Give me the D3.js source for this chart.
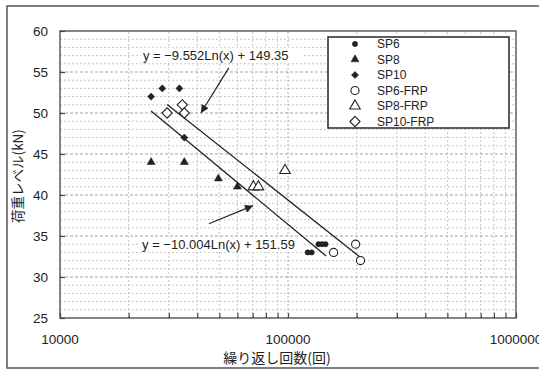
<!DOCTYPE html>
<html>
<head>
<meta charset="utf-8">
<script src="https://cdn.jsdelivr.net/npm/d3@7"></script>
<style>
  body { margin: 0; background: #fff; }
  text { fill: #222; }
</style>
</head>
<body>
<div id="chart"></div>
<script>
// values  [cycles, load kN]
var sp6     = [[122000,33],[127000,33],[136000,34],[141000,34],[146000,34]]
var sp8     = [[25100,44],[35100,44],[49500,42],[60000,41]]
var sp10    = [[25100,52],[28100,53],[33400,53],[35100,47]]
var sp6frp  = [[158500,33],[198000,34],[208000,32]]
var sp8frp  = [[70500,41],[74200,41],[97000,43]]
var sp10frp = [[29500,50],[34400,51],[35100,50]]

var seriesNames = ["SP6","SP8","SP10","SP6-FRP","SP8-FRP","SP10-FRP"]
var seriesData  = [sp6, sp8, sp10, sp6frp, sp8frp, sp10frp]

// log trendlines y = a*Ln(x) + b, drawn over the data range
var trendA     = [-9.552, -10.004]
var trendB     = [149.35, 151.59]
var trendFrom  = [29500, 25100]
var trendTo    = [208000, 147000]
var trendLabel = ["y = \u22129.552Ln(x) + 149.35", "y = \u221210.004Ln(x) + 151.59"]
// label anchor and arrow (data coords)
var labelAt    = [[23100,56.5],[22900,33.4]]
var arrowFrom  = [[55000,55.5],[45000,36.5]]
var arrowTo    = [[41500,50.0],[70200,38.7]]

var yTicks = [25,30,35,40,45,50,55,60]
var xTicks = [10000,100000,1000000]

var width = 539,
    height = 370,
    margin = {top: 31, right: 23, bottom: 52, left: 60}

var svg = d3.select("#chart")
  .append("svg")
    .attr("width", width)
    .attr("height", height)

// outer frame of the chart object (right side runs off the page)
svg.append("rect")
  .attr("x", 7).attr("y", 6)
  .attr("width", 545).attr("height", 362)
  .attr("fill", "none")
  .attr("stroke", "#555")
  .attr("stroke-width", 1.5)

var x = d3.scaleLog()
  .domain([10000, 1000000])
  .range([margin.left, width - margin.right])

var y = d3.scaleLinear()
  .domain([25, 60])
  .range([height - margin.bottom, margin.top])

var font = "'Liberation Sans', Arial, sans-serif"
var jpFont = "'Noto Sans CJK JP', sans-serif"

// grid
var minorX = []
for (var e = 4; e < 6; e++) {
  for (var m = 2; m <= 9; m++) minorX.push(m * Math.pow(10, e))
}
var minorY = d3.range(26, 60).filter(d => d % 5 !== 0)

var grid = svg.append("g")
grid.selectAll(".hminor")
  .data(minorY)
  .enter()
  .append("line")
    .attr("x1", x.range()[0]).attr("x2", x.range()[1])
    .attr("y1", d => y(d)).attr("y2", d => y(d))
    .attr("stroke", "#b8b8b8")
    .attr("stroke-dasharray", "2,2")
    .attr("stroke-width", 0.8)

grid.selectAll(".hmajor")
  .data(yTicks.slice(1, -1))
  .enter()
  .append("line")
    .attr("x1", x.range()[0]).attr("x2", x.range()[1])
    .attr("y1", d => y(d)).attr("y2", d => y(d))
    .attr("stroke", "#999")
    .attr("stroke-dasharray", "3,2")
    .attr("stroke-width", 0.9)

grid.selectAll(".vminor")
  .data(minorX.concat([100000]))
  .enter()
  .append("line")
    .attr("x1", d => x(d)).attr("x2", d => x(d))
    .attr("y1", y.range()[0]).attr("y2", y.range()[1])
    .attr("stroke", d => d === 100000 ? "#999" : "#b8b8b8")
    .attr("stroke-dasharray", "2,2")
    .attr("stroke-width", 0.8)

// plot border
svg.append("rect")
  .attr("x", x.range()[0]).attr("y", y.range()[1])
  .attr("width", x.range()[1] - x.range()[0])
  .attr("height", y.range()[0] - y.range()[1])
  .attr("fill", "none")
  .attr("stroke", "#444")
  .attr("stroke-width", 1.3)

// axes: inward ticks, labels placed separately
var xAxis = svg.append("g")
  .attr("transform", "translate(0," + y.range()[0] + ")")
  .call(d3.axisBottom(x).tickValues(minorX.concat(xTicks)).tickSize(-5).tickFormat(""))
xAxis.select(".domain").remove()
xAxis.selectAll(".tick line").attr("stroke", "#444").attr("stroke-width", 1.2)

var yAxis = svg.append("g")
  .attr("transform", "translate(" + x.range()[0] + ",0)")
  .call(d3.axisLeft(y).tickValues(yTicks).tickSize(-5).tickFormat(""))
yAxis.select(".domain").remove()
yAxis.selectAll(".tick line").attr("stroke", "#444").attr("stroke-width", 1.2)

svg.selectAll(".ylab")
  .data(yTicks)
  .enter()
  .append("text")
    .attr("x", 48)
    .attr("y", d => y(d) + 5)
    .attr("text-anchor", "end")
    .style("font-family", font)
    .style("font-size", "13.5px")
    .text(d => d)

svg.selectAll(".xlab")
  .data(xTicks)
  .enter()
  .append("text")
    .attr("x", d => x(d))
    .attr("y", 344)
    .attr("text-anchor", "middle")
    .style("font-family", font)
    .style("font-size", "13.5px")
    .text(d => d)

svg.append("text")
  .attr("x", 277).attr("y", 363)
  .attr("text-anchor", "middle")
  .style("font-family", jpFont)
  .style("font-size", "14px")
  .text("繰り返し回数(回)")

svg.append("text")
  .attr("transform", "translate(23,176) rotate(-90)")
  .attr("text-anchor", "middle")
  .style("font-family", jpFont)
  .style("font-size", "13.5px")
  .text("荷重レベル(kN)")

// trendlines
var line = d3.line().x(d => x(d[0])).y(d => y(d[1]))
trendA.forEach(function(a, i) {
  var pts = [trendFrom[i], trendTo[i]].map(v => [v, a * Math.log(v) + trendB[i]])
  svg.append("path")
    .attr("d", line(pts))
    .attr("fill", "none")
    .attr("stroke", "#222")
    .attr("stroke-width", 1.3)
})

// equation labels and arrows
svg.append("defs").append("marker")
  .attr("id", "head")
  .attr("viewBox", "0 0 10 10")
  .attr("refX", 10).attr("refY", 5)
  .attr("markerWidth", 10).attr("markerHeight", 8)
  .attr("markerUnits", "userSpaceOnUse")
  .attr("orient", "auto")
  .append("path")
    .attr("d", "M0,0 L10,5 L0,10 z")
    .attr("fill", "#222")

trendLabel.forEach(function(t, i) {
  svg.append("rect")
    .attr("x", x(labelAt[i][0]) - 2).attr("y", y(labelAt[i][1]) - 12)
    .attr("width", 163).attr("height", 15)
    .attr("fill", "#fff")
  svg.append("text")
    .attr("x", x(labelAt[i][0]))
    .attr("y", y(labelAt[i][1]))
    .style("font-family", font)
    .style("font-size", "13px")
    .text(t)
  svg.append("line")
    .attr("x1", x(arrowFrom[i][0])).attr("y1", y(arrowFrom[i][1]))
    .attr("x2", x(arrowTo[i][0])).attr("y2", y(arrowTo[i][1]))
    .attr("stroke", "#222")
    .attr("stroke-width", 1.2)
    .attr("marker-end", "url(#head)")
})

// marker styles per series
var diamond = {draw: function(ctx, size) {
  var r = Math.sqrt(size / 2)
  ctx.moveTo(0, -r); ctx.lineTo(r, 0); ctx.lineTo(0, r); ctx.lineTo(-r, 0); ctx.closePath()
}}
var shapes = [d3.symbolCircle, d3.symbolTriangle, diamond, d3.symbolCircle, d3.symbolTriangle, diamond]
var sizes  = [22, 28, 26, 52, 48, 52]
var filled = [true, true, true, false, false, false]

function drawMarker(g, i, px, py) {
  g.append("path")
    .attr("d", d3.symbol().type(shapes[i]).size(sizes[i])())
    .attr("transform", "translate(" + px + "," + py + ")")
    .attr("fill", filled[i] ? "#222" : "#fff")
    .attr("stroke", "#222")
    .attr("stroke-width", filled[i] ? 0.5 : 1.1)
}

var pointsG = svg.append("g")
seriesData.forEach(function(s, i) {
  s.forEach(d => drawMarker(pointsG, i, x(d[0]), y(d[1])))
})

// legend
var legend = svg.append("g")
legend.append("rect")
  .attr("x", 328).attr("y", 37)
  .attr("width", 181).attr("height", 91)
  .attr("fill", "#fff")
  .attr("stroke", "#333")
  .attr("stroke-width", 1.6)

seriesNames.forEach(function(name, i) {
  var ly = 44 + i * 15.5
  drawMarker(legend, i, 355, ly)
  legend.append("text")
    .attr("x", 377).attr("y", ly + 4)
    .style("font-family", font)
    .style("font-size", "12px")
    .text(name)
})
</script>
</body>
</html>
